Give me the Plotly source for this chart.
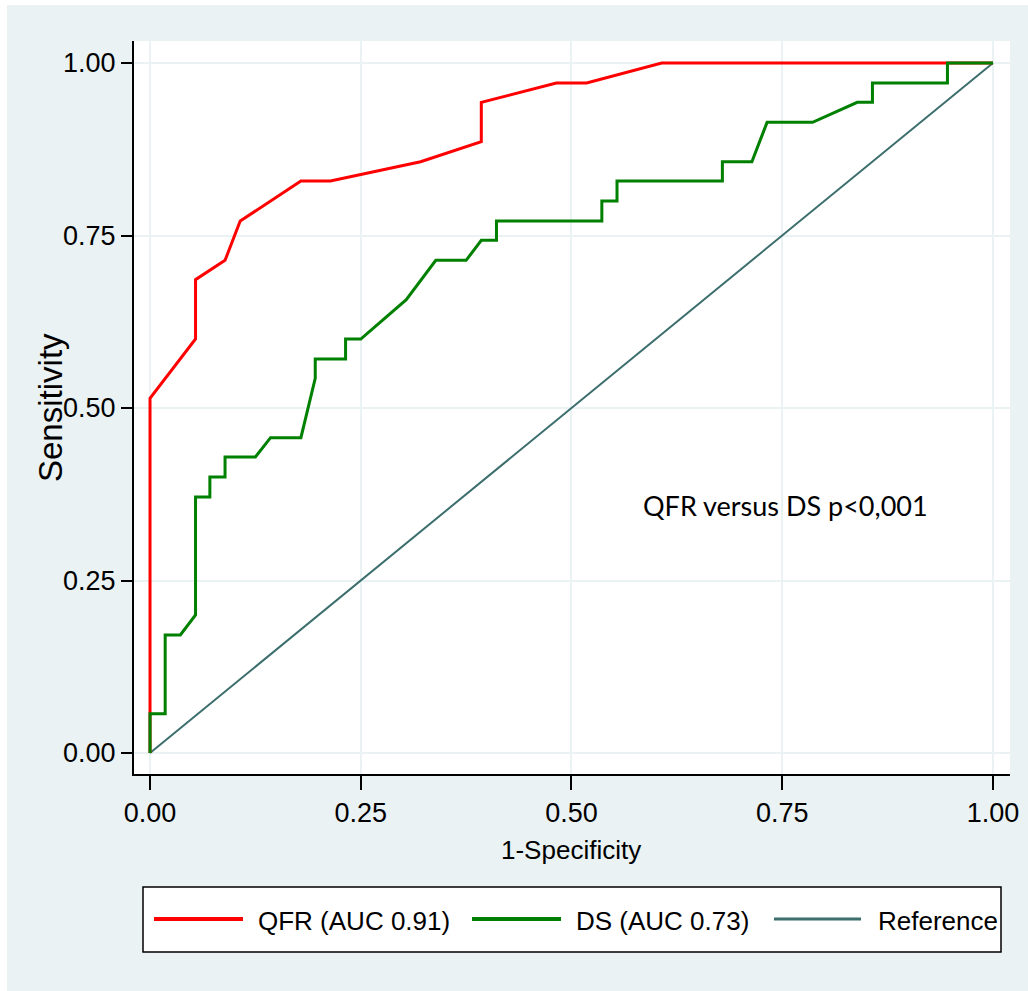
import plotly.graph_objects as go

# ---- data ----
qfr_fpr = [0.000, 0.000, 0.054, 0.054, 0.089, 0.107, 0.179, 0.214, 0.321, 0.393, 0.393, 0.482, 0.518, 0.607, 1.000]
qfr_tpr = [0.000, 0.514, 0.600, 0.686, 0.714, 0.771, 0.829, 0.829, 0.857, 0.886, 0.943, 0.971, 0.971, 1.000, 1.000]

ds_fpr = [0.000, 0.000, 0.018, 0.018, 0.036, 0.054, 0.054, 0.071, 0.071, 0.089, 0.089, 0.125, 0.143, 0.179,
          0.196, 0.196, 0.232, 0.232, 0.250, 0.304, 0.339, 0.375, 0.393, 0.411, 0.411, 0.536, 0.536, 0.554,
          0.554, 0.679, 0.679, 0.714, 0.732, 0.786, 0.839, 0.857, 0.857, 0.946, 0.946, 1.000]
ds_tpr = [0.000, 0.057, 0.057, 0.171, 0.171, 0.200, 0.371, 0.371, 0.400, 0.400, 0.429, 0.429, 0.457, 0.457,
          0.543, 0.571, 0.571, 0.600, 0.600, 0.657, 0.714, 0.714, 0.743, 0.743, 0.771, 0.771, 0.800, 0.800,
          0.829, 0.829, 0.857, 0.857, 0.914, 0.914, 0.943, 0.943, 0.971, 0.971, 1.000, 1.000]

ref_x = [0.0, 1.0]
ref_y = [0.0, 1.0]

tick_vals = [0.0, 0.25, 0.50, 0.75, 1.0]
tick_text = ["0.00", "0.25", "0.50", "0.75", "1.00"]

series_names = ["QFR (AUC 0.91)", "DS (AUC 0.73)", "Reference"]
series_colors = ["#ff0000", "#008000", "#3b6e6c"]
series_widths = [3, 3, 2]

annotation_text = "QFR versus DS p<0,001"

# ---- layout constants ----
W, H = 1028, 991
L, R, T, B = 134, 18, 41, 217
PW, PH = W - L - R, H - T - B
BG = "#eaf2f3"
SANS = "Liberation Sans, Arial, sans-serif"


def px(x):
    return (x - L) / PW


def py(y):
    return (H - B - y) / PH


fig = go.Figure()
# reference first, then QFR, then DS on top (green covers red at x=0 as in the reference)
for xs, ys, i in [(ref_x, ref_y, 2), (qfr_fpr, qfr_tpr, 0), (ds_fpr, ds_tpr, 1)]:
    fig.add_trace(go.Scatter(x=xs, y=ys, mode="lines", name=series_names[i],
                             line=dict(color=series_colors[i], width=series_widths[i]),
                             showlegend=False, hoverinfo="skip"))

axis_common = dict(
    tickvals=tick_vals, ticktext=tick_text,
    showgrid=True, gridcolor=BG, gridwidth=2,
    zeroline=False, showline=True, linecolor="#000000", linewidth=2,
    ticks="outside", tickcolor="#000000", tickwidth=2,
    tickfont=dict(family=SANS, size=27, color="#000000"),
    automargin=False,
)

fig.update_xaxes(range=[-0.019, 1.0202], ticklen=14, **axis_common)
fig.update_yaxes(range=[-0.0304, 1.0319], ticklen=11, **axis_common)

shapes = [
    # white page edges
    dict(type="rect", xref="paper", yref="paper", x0=px(0), x1=px(7), y0=py(H), y1=py(0),
         fillcolor="#ffffff", line=dict(width=0), layer="above"),
    dict(type="rect", xref="paper", yref="paper", x0=px(0), x1=px(W), y0=py(5), y1=py(0),
         fillcolor="#ffffff", line=dict(width=0), layer="above"),
    # legend box
    dict(type="rect", xref="paper", yref="paper", x0=px(143), x1=px(1001), y0=py(952), y1=py(887),
         fillcolor="#ffffff", line=dict(color="#000000", width=1.5), layer="above"),
]
legend_lines = [(154, 243), (472, 561), (774, 861)]
legend_text_x = [256, 574, 876]
annotations = []
for i in range(3):
    x0, x1 = legend_lines[i]
    shapes.append(dict(type="line", xref="paper", yref="paper", x0=px(x0), x1=px(x1),
                       y0=py(919), y1=py(919),
                       line=dict(color=series_colors[i], width=series_widths[i] + 1), layer="above"))
    annotations.append(dict(xref="paper", yref="paper", x=px(legend_text_x[i]), y=py(921),
                            xanchor="left", yanchor="middle", showarrow=False,
                            text=series_names[i],
                            font=dict(family=SANS, size=26, color="#000000")))

annotations += [
    dict(xref="paper", yref="paper", x=px(50), y=py(408), textangle=-90,
         xanchor="center", yanchor="middle", showarrow=False, text="Sensitivity",
         font=dict(family=SANS, size=33, color="#000000")),
    dict(xref="paper", yref="paper", x=px(571), y=py(850),
         xanchor="center", yanchor="middle", showarrow=False, text="1-Specificity",
         font=dict(family=SANS, size=26, color="#000000")),
    dict(xref="paper", yref="paper", x=px(785), y=py(505),
         xanchor="center", yanchor="middle", showarrow=False, text=annotation_text,
         font=dict(family="Lato, Open Sans, sans-serif", size=27, color="#000000")),
]

fig.update_layout(
    width=W, height=H,
    margin=dict(l=L, r=R, t=T, b=B, pad=0, autoexpand=False),
    paper_bgcolor=BG, plot_bgcolor="#ffffff",
    showlegend=False,
    shapes=shapes, annotations=annotations,
)

fig.write_html("out.html")
